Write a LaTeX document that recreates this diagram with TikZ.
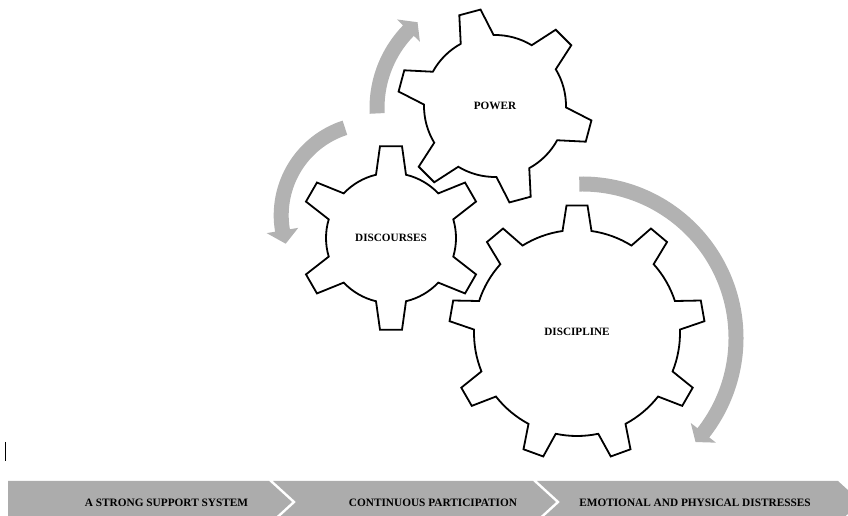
\documentclass[tikz,border=0pt]{standalone}
\usepackage{fontspec}
\setmainfont{Liberation Serif}
\definecolor{arrowgray}{RGB}{178,178,178}
\definecolor{bargray}{RGB}{172,172,172}

% gear outline: cx, cy, root radius, tip radius, teeth, first tooth angle,
% half width of a tooth at its root, half width at its tip
\newcommand{\gearoutline}[8]{%
  \pgfmathsetmacro{\gearBase}{asin(#7/#3)}%
  \pgfmathsetmacro{\gearTip}{asin(#8/#4)}%
  \pgfmathsetmacro{\gearStep}{360/#5}%
  \pgfmathtruncatemacro{\gearLast}{#5-1}%
  \begin{scope}[shift={(#1,#2)}]
    \draw[gearline] ({#6-\gearBase}:#3)
      \foreach \k in {0,...,\gearLast}{
        -- ({#6+\k*\gearStep-\gearTip}:#4)
        -- ({#6+\k*\gearStep+\gearTip}:#4)
        -- ({#6+\k*\gearStep+\gearBase}:#3)
        arc[start angle={#6+\k*\gearStep+\gearBase},
            end angle={#6+(\k+1)*\gearStep-\gearBase}, radius=#3]
      } -- cycle;
  \end{scope}}

% curved block arrow: cx, cy, mid radius, tail angle, head base angle, tip angle
\newcommand{\bentarrow}[6]{%
  \begin{scope}[shift={(#1,#2)}]
    \fill[arrowfill] ({#4}:{#3+7.5})
      arc[start angle={#4}, end angle={#5}, radius={#3+7.5}]
      -- ({#5}:{#3+16}) -- ({#6}:{#3}) -- ({#5}:{#3-16})
      -- ({#5}:{#3-7.5})
      arc[start angle={#5}, end angle={#4}, radius={#3-7.5}] -- cycle;
  \end{scope}}

\begin{document}
\begin{tikzpicture}[x=1pt,y=1pt,
  gearline/.style={draw=black, line width=1.8pt, fill=white, line join=miter},
  arrowfill/.style={fill=arrowgray},
  gearlabel/.style={font=\fontsize{11.2}{13}\selectfont\bfseries, inner sep=0pt},
  barlabel/.style={font=\fontsize{11.3}{13}\selectfont\bfseries, inner sep=0pt},
  barseg/.style={fill=bargray}]
\useasboundingbox (0,0) rectangle (848,516);
\clip (0,0) rectangle (848,516);

% rotation arrows
\bentarrow{488}{408}{111}{182.8}{135.8}{129.4}
\bentarrow{373.2}{300.7}{92}{107.9}{189.5}{198}
\bentarrow{582}{178}{154}{91}{-38}{-42.5}

% gears
\gearoutline{495}{410}{71}{97.5}{6}{105}{17}{11}
\gearoutline{391}{278}{65}{92.5}{6}{90}{15}{11}
\gearoutline{577}{183}{103}{128}{9}{90}{14.5}{10.5}

\node[gearlabel] (power) at (495,410) {POWER};
\node[gearlabel] (discourses) at (391,277.7) {DISCOURSES};
\node[gearlabel] (discipline) at (577,184.3) {DISCIPLINE};

% process bar
\fill[barseg] (8,35) -- (269,35) -- (292,14) -- (269,-7) -- (8,-7) -- cycle;
\fill[barseg] (273,35) -- (533,35) -- (556,14) -- (533,-7) -- (273,-7) -- (296,14) -- cycle;
\fill[barseg] (537,35) -- (838,35) -- (861,14) -- (838,-7) -- (537,-7) -- (560,14) -- cycle;

\node[barlabel] (support) at (166.5,13.3) {A STRONG SUPPORT SYSTEM};
\node[barlabel] (participation) at (433,13.3) {CONTINUOUS PARTICIPATION};
\node[barlabel] (distress) at (695,13.3) {EMOTIONAL AND PHYSICAL DISTRESSES};

% text cursor
\draw[line width=0.9pt] (5,74) -- (5,55);
\end{tikzpicture}
\end{document}
